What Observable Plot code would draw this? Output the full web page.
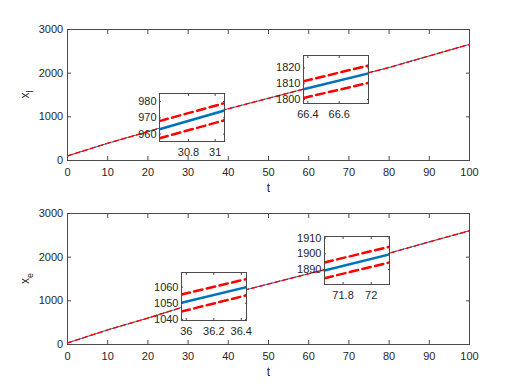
<!DOCTYPE html>
<html><head><meta charset="utf-8">
<script src="https://cdn.jsdelivr.net/npm/d3@7"></script>
<script src="https://cdn.jsdelivr.net/npm/@observablehq/plot@0.6"></script>
<style>
body{margin:0;background:#fff;}
#fig{position:relative;width:518px;height:388px;background:#fff;overflow:hidden;}
#fig svg{position:absolute;}
</style></head><body><div id="fig"></div>
<script>
// ---- main series ----
const tMain   = [0, 10, 20, 30, 40, 50, 60, 70, 80, 90, 100];
const xlMain  = [105, 395, 660, 945, 1185, 1425, 1665, 1895, 2130, 2395, 2660];
const xlUpper = [110, 400, 665, 950, 1190, 1430, 1670, 1900, 2135, 2400, 2665];
const xlLower = [100, 390, 655, 940, 1180, 1420, 1660, 1890, 2125, 2390, 2655];
const xeMain  = [35, 335, 605, 895, 1150, 1385, 1620, 1855, 2090, 2350, 2605];
const xeUpper = [40, 340, 610, 900, 1155, 1390, 1625, 1860, 2095, 2355, 2610];
const xeLower = [30, 330, 600, 890, 1145, 1380, 1615, 1850, 2085, 2345, 2600];
const mainXTicks = [0, 10, 20, 30, 40, 50, 60, 70, 80, 90, 100];
const mainYTicks = [0, 1000, 2000, 3000];

// ---- inset series (zoomed views) ----
const in1T = [30.583, 31.07];
const in1Blue = [963, 974.5];
const in1Upper = [968, 979];
const in1Lower = [957.5, 968.5];
const in1XTicks = [30.8, 31];
const in1YTicks = [960, 970, 980];

const in2T = [66.372, 66.787];
const in2Blue = [1806.5, 1816.5];
const in2Upper = [1811.5, 1821.5];
const in2Lower = [1801, 1810.5];
const in2XTicks = [66.4, 66.6];
const in2YTicks = [1800, 1810, 1820];

const in3T = [35.965, 36.438];
const in3Blue = [1050.4, 1060];
const in3Upper = [1055.5, 1065];
const in3Lower = [1045, 1055];
const in3XTicks = [36, 36.2, 36.4];
const in3YTicks = [1040, 1050, 1060];

const in4T = [71.668, 72.13];
const in4Blue = [1889.4, 1899.6];
const in4Upper = [1894.5, 1904.5];
const in4Lower = [1884.5, 1894.5];
const in4XTicks = [71.8, 72];
const in4YTicks = [1890, 1900, 1910];

const FONT = "'Liberation Sans', Arial, Helvetica, sans-serif";
const INK = "#262626";
const AXC = "#4a4a4a";
const BLUE = "#0072BD", RED = "#FF0000";
const fig = document.getElementById("fig");

function axesMarks(xTicks, yTicks, tick, padX, padY, fs) {
  const fmt = d => String(d);
  return [
    Plot.axisX({ticks: xTicks, anchor: "bottom", tickSize: -tick, tickPadding: padX, tickFormat: fmt, label: null, stroke: AXC, fill: INK, fontSize: fs}),
    Plot.axisX({ticks: xTicks, anchor: "top", tickSize: -tick, tickPadding: 0, tickFormat: () => "", label: null, stroke: AXC}),
    Plot.axisY({ticks: yTicks, anchor: "left", tickSize: -tick, tickPadding: padY, tickFormat: fmt, label: null, stroke: AXC, fill: INK, fontSize: fs}),
    Plot.axisY({ticks: yTicks, anchor: "right", tickSize: -tick, tickPadding: 0, tickFormat: () => "", label: null, stroke: AXC}),
    Plot.frame({stroke: AXC})
  ];
}

function baseStyle() {
  return {fontFamily: FONT, fontSize: "11px", color: INK, background: "transparent", maxWidth: "none", overflow: "visible"};
}

function mainChart(vals, up, lo, mt, mb, top, sub) {
  const H = 194;
  const svg = Plot.plot({
    width: 518, height: H,
    marginLeft: 67, marginRight: 49, marginTop: mt, marginBottom: mb,
    x: {domain: [0, 100]}, y: {domain: [0, 3000]},
    style: baseStyle(),
    marks: [
      Plot.lineY(vals, {x: tMain, stroke: BLUE, strokeWidth: 1}),
      Plot.lineY(up, {x: tMain, stroke: RED, strokeWidth: 1, strokeDasharray: "5,3"}),
      Plot.lineY(lo, {x: tMain, stroke: RED, strokeWidth: 1, strokeDasharray: "5,3"}),
      ...axesMarks(mainXTicks, mainYTicks, 4, 11.5, 8.3, 11),
      Plot.text(["t"], {frameAnchor: "bottom", dy: 27.7, lineAnchor: "middle", fontSize: 12, fill: INK})
    ]
  });
  svg.style.left = "0px";
  svg.style.top = top + "px";
  const cy = (mt + H - mb) / 2;
  const lab = d3.select(svg).append("text")
    .attr("transform", `translate(28.5,${cy}) rotate(-90)`)
    .attr("text-anchor", "middle")
    .attr("fill", INK)
    .attr("font-size", 12)
    .attr("font-family", FONT);
  lab.append("tspan").text("x");
  lab.append("tspan").attr("dy", 4).attr("font-size", 9).text(sub);
  fig.appendChild(svg);
}

function inset(t, blue, upper, lower, xt, yt, yd, left, top) {
  const W = 65, H = 48, ml = 34, mr = 4, mt = 4, mb = 20;
  const svg = Plot.plot({
    width: W + ml + mr, height: H + mt + mb,
    marginLeft: ml, marginRight: mr, marginTop: mt, marginBottom: mb,
    x: {domain: [t[0], t[t.length - 1]]}, y: {domain: yd},
    style: baseStyle(),
    marks: [
      Plot.frame({fill: "white", stroke: "none"}),
      Plot.lineY(blue, {x: t, stroke: BLUE, strokeWidth: 2.5, clip: true}),
      Plot.lineY(upper, {x: t, stroke: RED, strokeWidth: 2.5, strokeDasharray: "8.5,4.5", clip: true}),
      Plot.lineY(lower, {x: t, stroke: RED, strokeWidth: 2.5, strokeDasharray: "8.5,4.5", clip: true}),
      ...axesMarks(xt, yt, 2, 9.1, 5, 11)
    ]
  });
  svg.style.left = (left - ml) + "px";
  svg.style.top = (top - mt) + "px";
  fig.appendChild(svg);
}

mainChart(xlMain, xlUpper, xlLower, 29, 34, 0, "l");
mainChart(xeMain, xeUpper, xeLower, 19, 44, 194, "e");

inset(in1T, in1Blue, in1Upper, in1Lower, in1XTicks, in1YTicks, [955.5, 984.9], 159, 93);
inset(in2T, in2Blue, in2Upper, in2Lower, in2XTicks, in2YTicks, [1797.5, 1827.8], 303, 55);
inset(in3T, in3Blue, in3Upper, in3Lower, in3XTicks, in3YTicks, [1039.5, 1069], 181, 272);
inset(in4T, in4Blue, in4Upper, in4Lower, in4XTicks, in4YTicks, [1880.5, 1911], 324, 236);
</script></body></html>
